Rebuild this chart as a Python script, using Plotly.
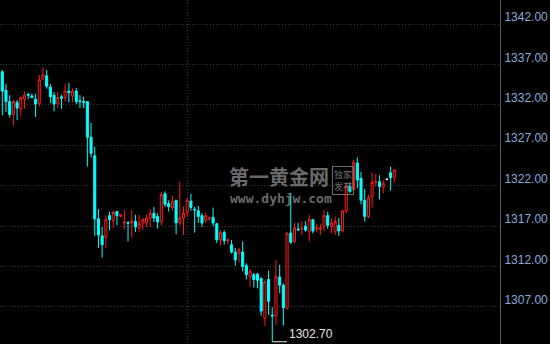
import plotly.graph_objects as go

# OHLC values (index = bar number)
opens = [1336.1,1333.8,1332.4,1330.8,1332.3,1331.5,1332.7,1333.3,1333.1,1332.7,
         1332.2,1335.2,1335.6,1334.2,1333.2,1332.1,1333.0,1332.9,1333.7,1333.1,
         1333.7,1332.5,1332.4,1332.4,1328.0,1325.7,1317.9,1315.8,1315.6,1318.3,
         1317.7,1318.8,1318.2,1317.4,1317.45,1317.4,1317.6,1316.8,1317.4,1317.4,
         1318.0,1318.6,1318.2,1317.5,1321.0,1319.8,1319.3,1320.2,1317.4,1318.0,
         1318.7,1320.1,1319.1,1318.9,1318.3,1317.7,1317.9,1318.1,1317.3,1315.3,
         1316.2,1315.2,1314.7,1313.8,1313.6,1313.8,1312.1,1310.75,1311.0,1311.05,
         1310.5,1305.6,1310.4,1306.0,1305.9,1310.7,1309.7,1306.8,1316.15,1315.1,
         1316.65,1316.65,1317.0,1316.3,1317.8,1316.65,1316.6,1316.9,1318.3,1316.9,
         1316.3,1317.1,1316.4,1318.9,1321.9,1321.5,1324.8,1322.9,1320.2,1318.2,
         1320.6,1322.43,1322.5,1321.8,1322.8,1323.6,1323.0]
highs = [1336.3,1334.6,1333.2,1332.6,1332.6,1333.0,1333.6,1333.5,1333.4,1333.4,
         1335.7,1336.6,1336.3,1334.6,1333.6,1333.6,1333.3,1334.6,1334.7,1334.0,
         1334.1,1333.2,1333.0,1332.4,1329.8,1326.8,1319.1,1316.9,1318.3,1318.8,
         1318.9,1318.8,1318.4,1319.0,1317.6,1319.0,1318.4,1318.4,1318.0,1318.4,
         1319.1,1319.4,1318.6,1321.2,1321.3,1320.2,1320.8,1320.2,1322.5,1319.4,
         1320.5,1321.0,1319.4,1319.5,1318.6,1318.7,1318.2,1319.3,1317.4,1316.5,
         1316.5,1315.5,1315.3,1314.3,1314.3,1315.1,1312.4,1311.7,1311.2,1311.2,
         1310.7,1310.3,1311.5,1307.0,1312.8,1312.2,1309.9,1316.3,1321.1,1317.4,
         1317.4,1317.6,1317.6,1318.4,1317.8,1317.3,1317.3,1319.0,1318.8,1318.0,
         1318.2,1318.0,1319.0,1322.3,1322.4,1325.2,1325.5,1323.7,1321.6,1320.85,
         1323.6,1323.45,1323.3,1322.7,1322.8,1324.35,1323.95]
lows = [1330.7,1331.1,1330.4,1329.5,1330.1,1330.6,1331.5,1332.7,1332.9,1330.5,
        1331.8,1335.1,1334.0,1332.2,1331.2,1331.6,1331.5,1332.4,1332.3,1332.3,
        1332.1,1331.6,1331.6,1324.4,1325.5,1315.8,1314.3,1313.1,1314.3,1316.5,
        1316.8,1317.1,1318.2,1316.6,1315.1,1315.6,1316.3,1316.3,1316.5,1316.9,
        1316.9,1317.5,1316.7,1317.1,1319.4,1318.8,1318.9,1316.0,1317.1,1315.9,
        1318.2,1318.9,1316.2,1317.4,1316.9,1317.4,1317.7,1317.0,1314.9,1314.6,
        1314.7,1314.8,1313.6,1312.1,1312.5,1311.4,1310.4,1309.5,1309.4,1309.3,
        1305.9,1304.65,1306.0,1302.7,1304.8,1308.7,1304.7,1306.7,1314.8,1314.9,
        1316.4,1315.9,1316.3,1315.1,1316.1,1316.2,1315.9,1316.4,1316.65,1316.1,
        1315.9,1315.8,1316.2,1318.6,1321.1,1321.3,1321.7,1319.7,1317.55,1317.97,
        1319.3,1321.97,1320.3,1321.06,1322.8,1321.4,1322.4]
closes = [1333.7,1332.4,1330.8,1332.4,1331.6,1332.9,1333.2,1333.2,1332.9,1332.1,
          1335.1,1335.7,1334.3,1333.0,1332.1,1332.9,1332.8,1333.7,1333.5,1333.7,
          1332.4,1332.4,1332.3,1328.0,1326.0,1317.9,1315.9,1314.7,1317.8,1317.8,
          1318.7,1318.3,1318.4,1317.5,1317.35,1317.6,1316.9,1317.3,1317.8,1318.0,
          1318.6,1318.0,1317.5,1320.9,1319.7,1319.4,1320.1,1317.4,1318.0,1318.6,
          1320.2,1319.3,1319.0,1318.2,1317.4,1318.3,1318.0,1317.4,1315.3,1316.2,
          1315.2,1315.3,1313.8,1312.8,1314.05,1312.0,1311.0,1311.4,1310.4,1310.3,
          1306.5,1310.1,1307.7,1305.9,1310.75,1309.7,1306.9,1316.1,1315.0,1316.8,
          1316.55,1316.75,1316.5,1317.8,1316.4,1316.75,1316.75,1318.3,1317.1,1317.4,
          1317.6,1316.4,1318.9,1321.9,1321.3,1324.9,1322.7,1320.2,1318.2,1320.5,
          1322.4,1322.51,1321.9,1322.3,1322.8,1323.0,1323.95]

price_ticks = [1307, 1312, 1317, 1322, 1327, 1332, 1337, 1342]
tick_labels = ["%.2f" % v for v in price_ticks]
session_break = [50]       # bar where the dotted vertical divider sits
slot_count = 135.2         # width of the plot in bar slots

idx = list(range(len(opens)))
flat = [o == c for o, c in zip(opens, closes)]

def pick(arr, keep):
    return [v if k else None for v, k in zip(arr, keep)]

not_flat = [not f for f in flat]

fig = go.Figure()
fig.add_trace(go.Candlestick(
    x=idx,
    open=pick(opens, not_flat), high=pick(highs, not_flat),
    low=pick(lows, not_flat), close=pick(closes, not_flat),
    increasing=dict(line=dict(color="#ff1a1a", width=1), fillcolor="#000000"),
    decreasing=dict(line=dict(color="#00ffff", width=1), fillcolor="#00ffff"),
    whiskerwidth=0, hoverinfo="skip", showlegend=False,
))
fig.add_trace(go.Candlestick(
    x=idx,
    open=pick(opens, flat), high=pick(highs, flat),
    low=pick(lows, flat), close=pick(closes, flat),
    increasing=dict(line=dict(color="#ffffff", width=1), fillcolor="#ffffff"),
    decreasing=dict(line=dict(color="#ffffff", width=1), fillcolor="#ffffff"),
    whiskerwidth=0, hoverinfo="skip", showlegend=False,
))

low_val = min(lows)
low_idx = lows.index(low_val)

fig.add_shape(type="line", xref="x", yref="y",
              x0=low_idx, x1=low_idx + 4, y0=low_val, y1=low_val,
              line=dict(color="#e8e8e8", width=1))
fig.add_annotation(x=low_idx + 4, y=low_val, xref="x", yref="y",
                   text="%.2f" % low_val, showarrow=False,
                   xanchor="left", yanchor="bottom", xshift=0, yshift=-1,
                   font=dict(family="Liberation Sans", size=12, color="#e6e6e6"))

# watermark
wm = "rgba(135,135,135,0.8)"
fig.add_annotation(x=0.454, y=0.488, xref="paper", yref="paper",
                   xanchor="left",
                   text="<b>第一黄金网</b>", showarrow=False,
                   font=dict(family="Noto Sans CJK SC", size=20, color=wm))
fig.add_annotation(x=0.456, y=0.424, xref="paper", yref="paper",
                   xanchor="left",
                   text="<b>www.dyhjw.com</b>", showarrow=False,
                   font=dict(family="DejaVu Sans Mono", size=13, color=wm))
fig.add_annotation(x=0.664, y=0.474, xref="paper", yref="paper",
                   xanchor="left",
                   text="独家<br>发布", showarrow=False,
                   bordercolor=wm, borderwidth=1, borderpad=1,
                   font=dict(family="Noto Sans CJK SC", size=9, color=wm))

grid = "#3a3a3a"
fig.update_layout(
    width=550, height=344,
    margin=dict(l=0, r=50, t=0, b=0),
    paper_bgcolor="#000000", plot_bgcolor="#000000",
    boxgap=0.2,
    xaxis=dict(range=[-0.62, slot_count - 0.62], rangeslider=dict(visible=False),
               tickvals=session_break, showticklabels=False, ticks="",
               showgrid=True, gridcolor=grid, griddash="1px,2px", gridwidth=1,
               zeroline=False, showline=False, fixedrange=True),
    yaxis=dict(side="right", range=[1302.42, 1344.97],
               tickvals=price_ticks, ticktext=tick_labels, ticks="",
               ticklabelshift=-7, ticklabelstandoff=1,
               tickfont=dict(family="Liberation Sans", size=12, color="#8aa8dc"),
               showgrid=True, gridcolor=grid, griddash="1px,2px", gridwidth=1,
               zeroline=False, showline=True, linecolor="#5c5c5c", linewidth=1,
               fixedrange=True),
)

fig.write_html("out.html")
